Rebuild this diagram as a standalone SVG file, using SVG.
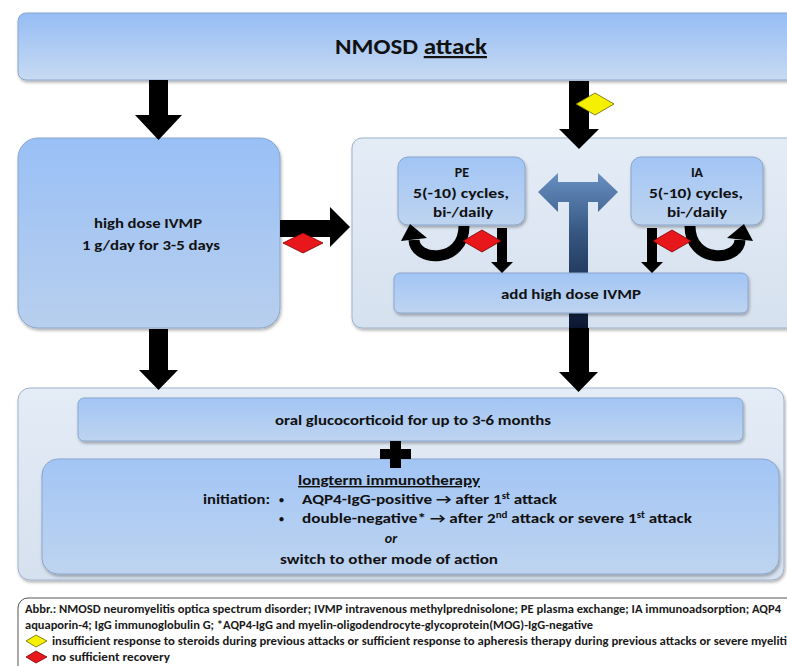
<svg xmlns="http://www.w3.org/2000/svg" width="787" height="666" viewBox="0 0 787 666">
<defs>
<linearGradient id="gTop" x1="0" y1="0" x2="0" y2="1"><stop offset="0" stop-color="#96bdf5"/><stop offset="1" stop-color="#c7daf2"/></linearGradient>
<linearGradient id="gBig" x1="0" y1="0" x2="0" y2="1"><stop offset="0" stop-color="#99c0f6"/><stop offset="1" stop-color="#b8cfee"/></linearGradient>
<linearGradient id="gPanel" x1="0" y1="0" x2="0" y2="1"><stop offset="0" stop-color="#e4ecf6"/><stop offset="1" stop-color="#d6e1ef"/></linearGradient>
<linearGradient id="gInner" x1="0" y1="0" x2="0" y2="1"><stop offset="0" stop-color="#a2c5f5"/><stop offset="1" stop-color="#bed4f0"/></linearGradient>
<linearGradient id="gT" gradientUnits="userSpaceOnUse" x1="0" y1="173" x2="0" y2="330"><stop offset="0" stop-color="#6890c2"/><stop offset="0.4" stop-color="#34547f"/><stop offset="1" stop-color="#0b1630"/></linearGradient>
<filter id="sh" x="-5%" y="-5%" width="115%" height="125%"><feDropShadow dx="1" dy="2" stdDeviation="1.5" flood-color="#000" flood-opacity="0.3"/></filter>
</defs>
<style>
.t{font-family:Carlito,'Liberation Sans',Arial,sans-serif;font-weight:bold;fill:#111;}
.m{font-size:14px;text-anchor:middle;}
.l{font-size:14px;}
.b{font-size:10px;}
.lg{font-family:Carlito,'Liberation Sans',Arial,sans-serif;font-weight:bold;font-size:11px;fill:#1a1a1a;}
.box{stroke:#8aa6cc;stroke-width:1;filter:url(#sh);}
.panel{fill:url(#gPanel);stroke:#9fb2cb;stroke-width:1;filter:url(#sh);}
.inner{fill:url(#gInner);stroke:#8aa6cc;stroke-width:1;filter:url(#sh);}
.arr{fill:#000;}
.curve{fill:none;stroke:#000;stroke-width:11;}
.red{fill:#e8171c;stroke:#7a0000;stroke-width:0.8;}
.yel{fill:#f5f000;stroke:#6b6400;stroke-width:0.8;}
</style>
<rect width="787" height="666" fill="#fff"/>

<g id="panels">
<rect id="right-panel" class="panel" x="352" y="138" width="460" height="190" rx="10"/>
<rect id="lower-panel" class="panel" x="18" y="388" width="766" height="192" rx="12"/>
</g>

<g id="t-arrow">
<polygon fill="url(#gT)" points="538,192 558,173 558,182 598,182 598,173 618,192 598,212 598,202 588,202 588,330 569,330 569,202 558,202 558,212"/>
</g>

<g id="n-attack">
<rect class="box" x="18" y="13" width="800" height="67" rx="8" fill="url(#gTop)"/>
<text class="t" x="411" y="54" font-size="22" text-anchor="middle" textLength="152" lengthAdjust="spacingAndGlyphs">NMOSD <tspan text-decoration="underline">attack</tspan></text>
</g>

<g id="n-ivmp">
<rect class="box" x="18" y="138" width="262" height="190" rx="20" fill="url(#gBig)"/>
<text class="t m" x="148" y="228" textLength="108" lengthAdjust="spacingAndGlyphs">high dose IVMP</text>
<text class="t m" x="151" y="250" textLength="138" lengthAdjust="spacingAndGlyphs">1 g/day for 3-5 days</text>
</g>

<g id="n-pe">
<rect class="inner" x="398" y="157" width="127" height="68" rx="10"/>
<text class="t m" x="462" y="177">PE</text>
<text class="t m" x="461" y="198" textLength="96" lengthAdjust="spacingAndGlyphs">5(-10) cycles,</text>
<text class="t m" x="463" y="217" textLength="60" lengthAdjust="spacingAndGlyphs">bi-/daily</text>
</g>

<g id="n-ia">
<rect class="inner" x="631" y="157" width="132" height="68" rx="10"/>
<text class="t m" x="697" y="177">IA</text>
<text class="t m" x="696" y="198" textLength="94" lengthAdjust="spacingAndGlyphs">5(-10) cycles,</text>
<text class="t m" x="697" y="217" textLength="60" lengthAdjust="spacingAndGlyphs">bi-/daily</text>
</g>

<g id="n-add-ivmp">
<rect class="inner" x="394" y="273" width="354" height="40" rx="6"/>
<text class="t m" x="571" y="299" textLength="140" lengthAdjust="spacingAndGlyphs">add high dose IVMP</text>
</g>

<g id="n-oral">
<rect class="inner" x="78" y="398" width="665" height="43" rx="6"/>
<text class="t m" x="413" y="425" textLength="276" lengthAdjust="spacingAndGlyphs">oral glucocorticoid for up to 3-6 months</text>
</g>

<g id="n-longterm">
<rect class="inner" x="42" y="459" width="737" height="115" rx="16"/>
<text class="t m" x="389" y="485" text-decoration="underline" textLength="182" lengthAdjust="spacingAndGlyphs">longterm immunotherapy</text>
<text class="t l" x="203" y="504" textLength="67" lengthAdjust="spacingAndGlyphs">initiation:</text>
<text class="t b" x="279" y="503">•</text>
<text class="t l" x="302" y="504" textLength="255" lengthAdjust="spacingAndGlyphs">AQP4-IgG-positive → after 1<tspan font-size="9" dy="-5">st</tspan><tspan dy="5"> attack</tspan></text>
<text class="t b" x="279" y="522">•</text>
<text class="t l" x="302" y="523" textLength="390" lengthAdjust="spacingAndGlyphs">double-negative* → after 2<tspan font-size="9" dy="-5">nd</tspan><tspan dy="5"> attack or severe 1</tspan><tspan font-size="9" dy="-5">st</tspan><tspan dy="5"> attack</tspan></text>
<text class="t m" x="391" y="543" font-style="italic">or</text>
<text class="t m" x="389" y="564" textLength="218" lengthAdjust="spacingAndGlyphs">switch to other mode of action</text>
</g>

<g id="plus">
<rect class="arr" x="390" y="441" width="11" height="27"/>
<rect class="arr" x="380" y="449" width="31" height="10"/>
</g>

<g id="connectors">
<polygon class="arr" points="149,80 168,80 168,115 182,115 158.5,140 135,115 149,115"/>
<polygon class="arr" points="569,81 589,81 589,129 599,129 579,149 559,129 569,129"/>
<polygon class="arr" points="280,220 330,220 330,207 350,227 330,247 330,237 280,237"/>
<polygon class="arr" points="149,329 168,329 168,370 178,370 158.5,390 139,370 149,370"/>
<polygon class="arr" points="569,328 589,328 589,372 598,372 578.5,392 559,372 569,372"/>
<polygon class="arr" points="497,228 507,228 507,262 513,262 502,273 491,262 497,262"/>
<polygon class="arr" points="647,228 657,228 657,262 663,262 652,273 641,262 647,262"/>
<path class="curve" d="M464 226 C464 264 415 262 414 240"/>
<polygon class="arr" points="401,241 427,238 410,224"/>
<path class="curve" d="M690 226 C690 264 739 262 740 240"/>
<polygon class="arr" points="753,241 727,238 744,224"/>
</g>

<g id="conditions">
<polygon class="yel" points="576,104 595,93 614,104 595,115"/>
<polygon class="red" points="283,243 303,233 323,243 303,253"/>
<polygon class="red" points="463,241 482,230 501,241 482,252"/>
<polygon class="red" points="653,241 672,230 691,241 672,252"/>
</g>

<g id="legend">
<rect x="18" y="598" width="800" height="90" rx="10" fill="#fff" stroke="#555" stroke-width="1"/>
<text class="lg" x="25" y="613" textLength="756" lengthAdjust="spacingAndGlyphs">Abbr.: NMOSD neuromyelitis optica spectrum disorder; IVMP intravenous methylprednisolone; PE plasma exchange; IA immunoadsorption; AQP4</text>
<text class="lg" x="25" y="629" textLength="568" lengthAdjust="spacingAndGlyphs">aquaporin-4; IgG immunoglobulin G; *AQP4-IgG and myelin-oligodendrocyte-glycoprotein(MOG)-IgG-negative</text>
<polygon class="yel" points="26,641 36,635 47,641 36,647"/>
<text class="lg" x="52" y="645" textLength="735" lengthAdjust="spacingAndGlyphs">insufficient response to steroids during previous attacks or sufficient response to apheresis therapy during previous attacks or severe myeliti</text>
<polygon class="red" points="26,657 36,651 47,657 36,663"/>
<text class="lg" x="52" y="661" textLength="118" lengthAdjust="spacingAndGlyphs">no sufficient recovery</text>
</g>
</svg>
